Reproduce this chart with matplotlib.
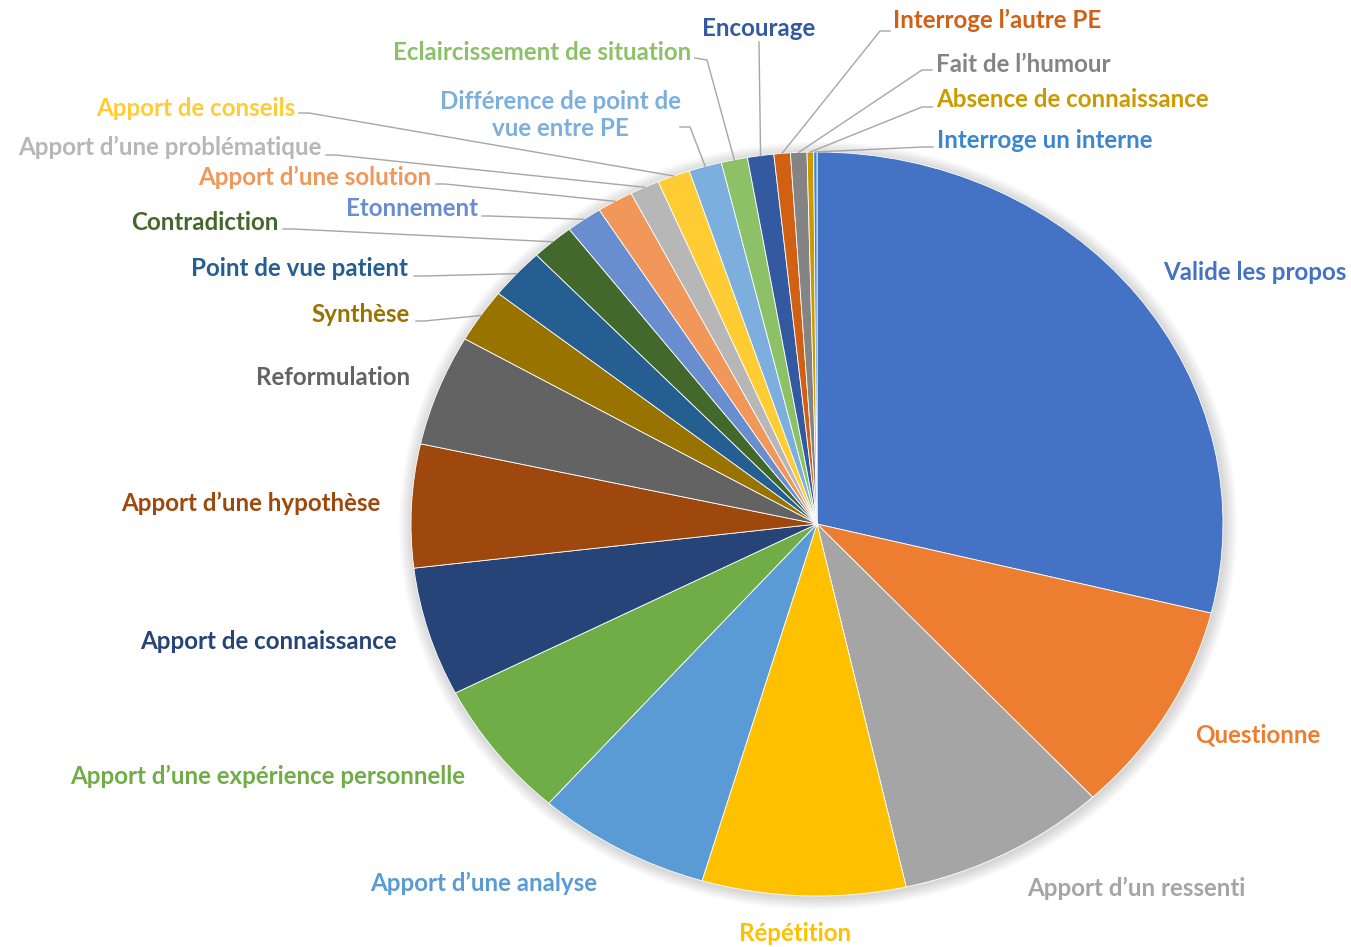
import matplotlib
matplotlib.use("Agg")
import matplotlib.pyplot as plt
from matplotlib.patches import Ellipse
import numpy as np

plt.rcParams['font.family'] = ['Lato', 'DejaVu Sans']

# slices, clockwise from 12 o'clock
categories = [
    "Valide les propos", "Questionne", "Apport d\u2019un ressenti", "Répétition",
    "Apport d\u2019une analyse", "Apport d\u2019une expérience personnelle",
    "Apport de connaissance", "Apport d\u2019une hypothèse", "Reformulation",
    "Synthèse", "Point de vue patient", "Contradiction", "Etonnement",
    "Apport d\u2019une solution", "Apport d\u2019une problématique", "Apport de conseils",
    "Différence de point de\nvue entre PE", "Eclaircissement de situation", "Encourage",
    "Interroge l\u2019autre PE", "Fait de l\u2019humour", "Absence de connaissance",
    "Interroge un interne",
]
counts = [221, 71, 64, 62, 53, 46, 43, 41, 37, 18, 17, 13, 11, 11, 9, 10, 10, 8, 8, 5, 5, 2, 1]

colors = [
    "#4472C4", "#ED7D31", "#A5A5A5", "#FFC000", "#5B9BD5", "#70AD47", "#264478",
    "#9E480E", "#636363", "#997300", "#255E91", "#43682B", "#698ED0", "#F1975A",
    "#B7B7B7", "#FFCD33", "#7CAFDD", "#8CC168", "#335AA1", "#D26012", "#848484",
    "#CC9A00", "#3A87D0",
]

# label layout in pixels: x, y, horizontal alignment, leader points (None = no leader)
label_layout = [
    (1163, 272, "left", None),
    (1195, 735, "left", None),
    (1027, 888, "left", None),
    (795, 933, "center", None),
    (597, 883, "right", None),
    (465, 776, "right", None),
    (397, 641, "right", None),
    (380, 503, "right", None),
    (410, 377, "right", None),
    (410, 314, "right", [(416, 321), (424, 321)]),
    (408, 268, "right", [(414, 276), (424, 276)]),
    (278, 222, "right", [(283, 229), (293, 229)]),
    (478, 208, "right", [(482, 216), (490, 216)]),
    (431, 177, "right", [(436, 184), (445, 184)]),
    (322, 147, "right", [(326, 155), (336, 155)]),
    (295, 108, "right", [(299, 113), (309, 113)]),
    (560, 115, "center", [(680, 127), (690, 127)]),
    (691, 52, "right", [(695, 58), (707, 60)]),
    (759, 28, "center", [(759, 42)]),
    (893, 20, "left", [(890, 31), (880, 31)]),
    (936, 64, "left", [(932, 70), (922, 70)]),
    (936, 99, "left", [(932, 107), (922, 107)]),
    (937, 140, "left", [(933, 147), (923, 147)]),
]

W, H = 1351, 947
fig = plt.figure(figsize=(W / 100, H / 100), dpi=100)

# pie is slightly wider than tall in the reference
cx, cy, rx, ry = 817, 524, 406, 372
ax_pie = fig.add_axes([(cx - rx) / W, 1 - (cy + ry) / H, 2 * rx / W, 2 * ry / H])

# soft shadow around the pie
for k in range(8):
    s = 1.0 + 0.004 * (k + 1)
    ax_pie.add_patch(Ellipse((0.003, -0.004), 2 * s, 2 * s, facecolor="black",
                             edgecolor="none", alpha=0.018, zorder=0))

wedges, _ = ax_pie.pie(counts, colors=colors, startangle=90, counterclock=False,
                       wedgeprops=dict(edgecolor="white", linewidth=0.6, zorder=2))
ax_pie.set_aspect("auto")
ax_pie.set_xlim(-1.05, 1.05)
ax_pie.set_ylim(-1.05, 1.05)
ax_pie.set_position([(cx - rx * 1.05) / W, 1 - (cy + ry * 1.05) / H,
                     2 * rx * 1.05 / W, 2 * ry * 1.05 / H])
ax_pie.axis("off")

ax = fig.add_axes([0, 0, 1, 1])
ax.set_xlim(0, W)
ax.set_ylim(H, 0)
ax.axis("off")
ax.patch.set_alpha(0)

to_px = ax_pie.transData + ax.transData.inverted()

for i, (name, w) in enumerate(zip(categories, wedges)):
    x, y, ha, leader = label_layout[i]
    ax.text(x, y, name, ha=ha, va="center", fontsize=17.4, fontweight="bold",
            color=colors[i], linespacing=1.25)
    if leader is not None:
        mid = np.deg2rad((w.theta1 + w.theta2) / 2)
        rim = to_px.transform((np.cos(mid), np.sin(mid)))
        pts = leader + [tuple(rim)]
        ax.plot([p[0] for p in pts], [p[1] for p in pts], color="#A6A6A6", linewidth=1.0)

fig.savefig("out.png", dpi=100, facecolor="white")
